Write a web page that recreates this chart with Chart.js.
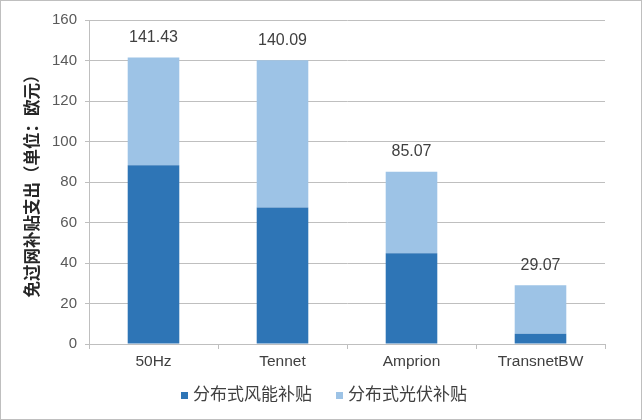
<!DOCTYPE html>
<html><head><meta charset="utf-8">
<script src="https://cdn.jsdelivr.net/npm/chart.js@4"></script>
<style>html,body{margin:0;padding:0;background:#fff}#wrap{width:642px;height:420px;position:relative}</style>
</head><body><div id="wrap"><canvas id="c" width="642" height="420"></canvas></div>
<script>
const categories = ['50Hz', 'Tennet', 'Amprion', 'TransnetBW'];
const windValues = [88.3, 67.4, 44.8, 5.1];
const solarValues = [53.13, 72.69, 40.27, 23.97];
const totalLabels = ['141.43', '140.09', '85.07', '29.07'];
const yTicks = [0, 20, 40, 60, 80, 100, 120, 140, 160];
const seriesNames = ['分布式风能补贴', '分布式光伏补贴'];
const seriesColors = ['#2E75B6', '#9DC3E6'];

const FONT = '"Liberation Sans", "Noto Sans CJK SC", sans-serif';

const borderPlugin = {
  id: 'outerBorder',
  beforeDraw(chart) {
    const ctx = chart.ctx;
    ctx.save();
    ctx.fillStyle = '#fff';
    ctx.fillRect(0, 0, chart.width, chart.height);
    ctx.strokeStyle = '#bfbfbf';
    ctx.lineWidth = 1;
    ctx.strokeRect(0.5, 0.5, chart.width - 1, chart.height - 1);
    ctx.restore();
  }
};
const totalsPlugin = {
  id: 'totals',
  afterDatasetsDraw(chart) {
    const ctx = chart.ctx;
    const meta = chart.getDatasetMeta(1);
    ctx.save();
    ctx.font = '16px ' + FONT;
    ctx.fillStyle = '#404040';
    ctx.textAlign = 'center';
    ctx.textBaseline = 'middle';
    meta.data.forEach((bar, i) => {
      ctx.fillText(totalLabels[i], bar.x, bar.y - 20);
    });
    ctx.restore();
  }
};
const legendPlugin = {
  id: 'customLegend',
  afterDraw(chart) {
    const ctx = chart.ctx;
    ctx.save();
    ctx.font = '17px ' + FONT;
    ctx.textBaseline = 'middle';
    ctx.textAlign = 'left';
    const y = 395;
    const gap = 24;
    const widths = chart.data.datasets.map(d => 12 + ctx.measureText(d.label).width);
    const total = widths.reduce((a, b) => a + b, 0) + gap * (widths.length - 1);
    let x = 324 - total / 2;
    chart.data.datasets.forEach((d, i) => {
      ctx.fillStyle = d.backgroundColor;
      ctx.fillRect(x, y - 3, 7, 7);
      ctx.fillStyle = '#404040';
      ctx.fillText(d.label, x + 12, y);
      x += widths[i] + gap;
    });
    ctx.restore();
  }
};

new Chart(document.getElementById('c'), {
  type: 'bar',
  data: {
    labels: categories,
    datasets: [
      { label: seriesNames[0], data: windValues, backgroundColor: seriesColors[0], categoryPercentage: 1, barPercentage: 0.4 },
      { label: seriesNames[1], data: solarValues, backgroundColor: seriesColors[1], categoryPercentage: 1, barPercentage: 0.4 }
    ]
  },
  options: {
    responsive: false,
    animation: false,
    layout: { padding: { top: 20, right: 37, left: 0, bottom: 46 } },
    plugins: {
      legend: { display: false },
      tooltip: { enabled: false }
    },
    scales: {
      x: {
        stacked: true,
        grid: { display: true, drawOnChartArea: false, offset: true, tickLength: 5, color: '#bfbfbf' },
        border: { color: '#bfbfbf' },
        ticks: { color: '#404040', font: { size: 15.5, family: FONT }, padding: 3 },
        afterFit(s) { s.height = 30; }
      },
      y: {
        stacked: true,
        min: 0, max: 160,
        afterBuildTicks(s) { s.ticks = yTicks.map(v => ({ value: v })); },
        grid: { color: '#bfbfbf', tickLength: 4 },
        border: { color: '#bfbfbf' },
        ticks: { color: '#595959', font: { size: 15, family: FONT }, padding: 8 },
        title: { display: true, text: '免过网补贴支出（单位：欧元）', color: '#262626', font: { size: 16.5, weight: 'bold', family: FONT }, padding: { top: 24, bottom: 0 } },
        afterFit(s) { s.width = 89; }
      }
    }
  },
  plugins: [borderPlugin, totalsPlugin, legendPlugin]
});
</script></body></html>
